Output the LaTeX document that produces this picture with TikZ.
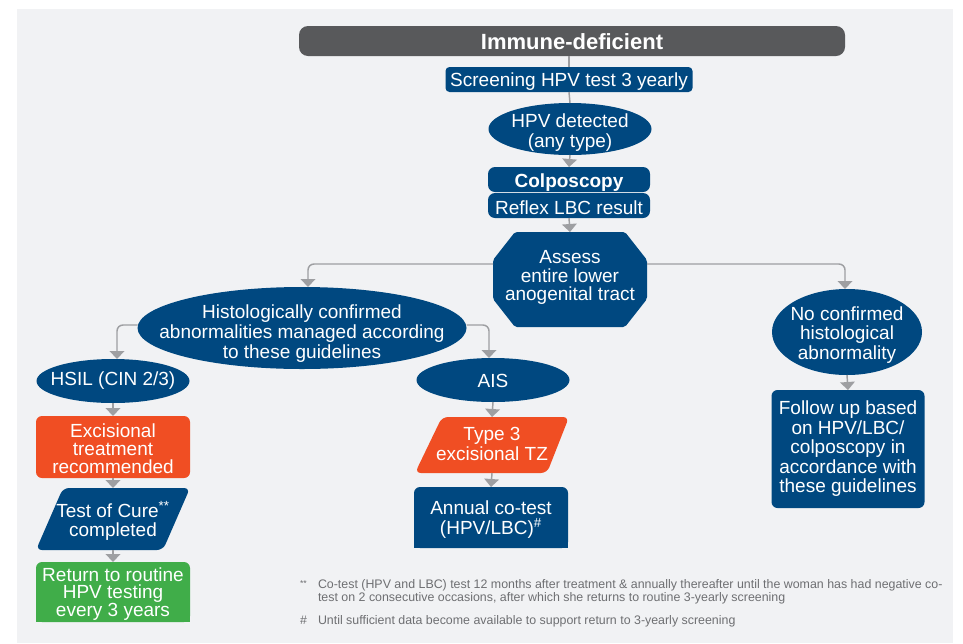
\documentclass[tikz,border=0pt]{standalone}
\usepackage{fontspec}
\setmainfont{Liberation Sans}
\usetikzlibrary{shapes.geometric,arrows.meta,calc,backgrounds}
\definecolor{panel}{RGB}{241,242,244}
\definecolor{nblue}{RGB}{0,72,128}
\definecolor{norange}{RGB}{240,78,35}
\definecolor{ngreen}{RGB}{64,173,73}
\definecolor{ngray}{RGB}{88,89,91}
\definecolor{lgray}{RGB}{158,159,162}
\definecolor{fgray}{RGB}{110,111,114}
\newdimen\px \px=0.75pt
\tikzset{
  body/.style={font=\fontsize{14.25}{15}\selectfont, text=white, align=center, inner sep=0pt, outer sep=0pt},
  tight/.style={font=\fontsize{14.25}{13.4}\selectfont},
  bluebox/.style={body, fill=nblue, rounded corners=6\px},
  orangebox/.style={body, fill=norange, rounded corners=6\px},
  shapebox/.style={inner sep=0pt, outer sep=0pt},
  ell/.style={ellipse, fill=nblue, inner sep=0pt, outer sep=0pt},
  ln/.style={draw=lgray, line width=1.1pt},
  arr/.style={ln, -{Triangle[width=11pt,length=6pt]}},
  brr/.style={arr, rounded corners=6\px},
  fn/.style={font=\fontsize{9.3}{10}\selectfont, text=fgray, inner sep=0pt, outer sep=0pt, anchor=base west}
}
\begin{document}
\begin{tikzpicture}[x=0.75pt,y=-0.75pt]
\useasboundingbox (0,0) rectangle (963,643);
\begin{scope}[on background layer]
  \fill[white] (0,0) rectangle (963,643);
  \fill[panel] (17,9) rectangle (953,643);
\end{scope}

% top column
\node[body, fill=ngray, rounded corners=9\px, minimum width=546\px, minimum height=30\px] (title) at (572,41) {};
\node[body, font=\fontsize{16.5}{18}\selectfont\bfseries] (titleT) at (572,42) {Immune-deficient};
\node[bluebox, rounded corners=4\px, minimum width=247\px, minimum height=25\px] (screen) at (569,79.5) {};
\node[body] (screenT) at (569,81.5) {Screening HPV test 3 yearly};
\node[ell, minimum width=163\px, minimum height=52\px] (hpv) at (570,129) {};
\node[body] (hpvT) at (570,133) {HPV detected\\(any type)};
\node[bluebox, rounded corners=7\px, minimum width=162\px, minimum height=25\px] (colpo) at (569,179.5) {};
\node[body] (colpoT) at (569,183) {\textbf{Colposcopy}};
\node[bluebox, rounded corners=7\px, minimum width=162\px, minimum height=25\px] (reflex) at (569,205.5) {};
\node[body] (reflexT) at (569,207.5) {Reflex LBC result};

% octagon
\node[shapebox, minimum width=154\px, minimum height=95\px] (oct) at (570,279.5) {};
\begin{scope}[on background layer]
  \fill[nblue, rounded corners=2\px]
    ($(oct.north west)+(22,0)$) -- ($(oct.north east)+(-22,0)$) -- ($(oct.north east)+(0,28)$)
    -- ($(oct.south east)+(0,-28)$) -- ($(oct.south east)+(-22,0)$) -- ($(oct.south west)+(22,0)$)
    -- ($(oct.south west)+(0,-28)$) -- ($(oct.north west)+(0,28)$) -- cycle;
\end{scope}
\node[body, font=\fontsize{14.25}{14}\selectfont] (octT) at (570,277.5) {Assess\\entire lower\\anogenital tract};
\coordinate (octL) at ($(oct.west)+(0,-15.5)$);
\coordinate (octR) at ($(oct.east)+(0,-15.5)$);

% left branch
\node[ell, minimum width=329\px, minimum height=82\px] (histo) at (302,328) {};
\node[body] (histoT) at (302,333.5) {Histologically confirmed\\abnormalities managed according\\to these guidelines};
\node[ell, minimum width=153\px, minimum height=44\px] (hsil) at (113,381) {};
\node[body] (hsilT) at (113,380.5) {HSIL (CIN 2/3)};
\node[orangebox, minimum width=154\px, minimum height=62\px] (excis) at (113,447) {};
\node[body, tight] (excisT) at (113,449) {Excisional\\treatment\\recommended};
\node[shapebox, minimum width=154\px, minimum height=62\px] (toc) at (113,519) {};
\node[body, font=\fontsize{14.25}{14.2}\selectfont] (tocT) at (113,520.5) {Test of Cure\textsuperscript{**}\\completed};
\node[shapebox, minimum width=154\px, minimum height=60\px] (ret) at (113,592) {};
\node[body, tight] (retT) at (113,594) {Return to routine\\HPV testing\\every 3 years};

% middle branch
\node[ell, minimum width=153\px, minimum height=44\px] (ais) at (493,380) {};
\node[body] (aisT) at (493,380.5) {AIS};
\node[shapebox, minimum width=154\px, minimum height=56\px] (type3) at (492,445) {};
\node[body] (type3T) at (492,443.5) {Type 3\\excisional TZ};
\node[shapebox, minimum width=154\px, minimum height=61\px] (annual) at (491,517.5) {};
\node[body] (annualT) at (491,520) {Annual co-test\\(HPV/LBC)\textsuperscript{\#}};

% right branch
\node[ell, minimum width=150\px, minimum height=86\px] (noconf) at (847,332) {};
\node[body, font=\fontsize{14.25}{14.6}\selectfont] (noconfT) at (847,335) {No confirmed\\histological\\abnormality};
\node[bluebox, font=\fontsize{14.25}{14.6}\selectfont, minimum width=153\px, minimum height=118\px] (follow) at (848,449) {Follow up based\\on HPV/LBC/\\colposcopy in\\accordance with\\these guidelines};

% custom shapes
\begin{scope}[on background layer]
  \fill[nblue, rounded corners=6\px] ($(toc.north west)+(27,0)$) -- (toc.north east)
     -- ($(toc.south east)+(-27,0)$) -- (toc.south west) -- cycle;
  \fill[norange, rounded corners=6\px] ($(type3.north west)+(27,0)$) -- (type3.north east)
     -- ($(type3.south east)+(-22,0)$) -- (type3.south west) -- cycle;
  \fill[ngreen, rounded corners=6\px] (ret.south west) rectangle (ret.north east);
  \fill[ngreen] (ret.south west) rectangle (ret.east);
  \fill[nblue, rounded corners=6\px] (annual.south west) rectangle (annual.north east);
  \fill[nblue] (annual.south west) rectangle (annual.east);
\end{scope}

% connectors
\draw[ln] (screen.north) -- (screen.north |- title.south);
\draw[ln] (screen.south) -- (hpv.north);
\draw[arr] (hpv.south) -- (colpo.north);
\draw[arr] (reflex.south) -- (oct.north);
\draw[brr] (octL) -| ($(histo.north)+(6,0)$);
\draw[brr] (octR) -| ($(noconf.north)+(-2,0)$);
\draw[brr] ($(histo.west)+(0,-3)$) -| ($(hsil.north)+(4,0)$);
\draw[brr] ($(histo.east)+(0,-3)$) -| ($(ais.north)+(-4,0)$);
\draw[arr] (hsil.south) -- (excis.north);
\draw[arr] (excis.south) -- (toc.north);
\draw[arr] (toc.south) -- (ret.north);
\draw[arr] (ais.south) -- (type3.north);
\draw[arr] (type3.south) -- (annual.north);
\draw[arr] (noconf.south) -- (follow.north);

% footnotes
\node[fn] (fn1m) at (300,588) {\raisebox{1.5pt}{\fontsize{6.5}{6.5}\selectfont**}};
\node[fn] (fn1a) at (318,588) {Co-test (HPV and LBC) test 12 months after treatment \& annually thereafter until the woman has had negative co-};
\node[fn] (fn1b) at (318,601) {test on 2 consecutive occasions, after which she returns to routine 3-yearly screening};
\node[fn] (fn2m) at (300,624) {\#};
\node[fn] (fn2) at (318,624) {Until sufficient data become available to support return to 3-yearly screening};
\end{tikzpicture}
\end{document}
